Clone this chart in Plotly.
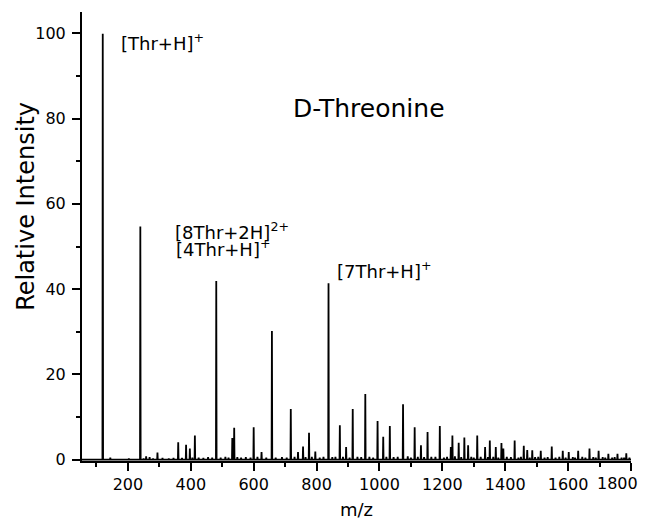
import plotly.graph_objects as go

# Peak positions (m/z) and relative intensities
peak_mz = [120, 144, 203, 239.5, 258, 269, 294, 360, 385, 397, 413, 481, 532, 538, 600, 625,
           658, 718, 741, 757, 776, 796, 838, 874, 894, 915, 955, 994, 1012, 1033, 1075,
           1112, 1132, 1153, 1192, 1227, 1232, 1252, 1270, 1282, 1311, 1336, 1351, 1370,
           1388, 1394, 1430, 1459, 1470, 1486, 1513, 1548, 1583, 1602, 1632, 1668, 1697,
           1728, 1757, 1785]
peak_int = [99.9, 0.5, 0.3, 54.7, 0.8, 0.6, 1.7, 4.1, 3.5, 2.6, 5.7, 41.9, 5.1, 7.5, 7.6, 1.8,
            30.2, 11.9, 1.8, 3.1, 6.3, 1.9, 41.4, 8.1, 3.0, 11.9, 15.4, 9.1, 5.4, 7.9, 13.0,
            7.6, 3.4, 6.5, 7.9, 3.0, 5.7, 4.0, 5.2, 3.4, 5.7, 3.0, 4.5, 3.0, 3.9, 2.6, 4.5,
            3.3, 2.3, 2.2, 2.1, 3.1, 2.1, 1.8, 2.1, 2.6, 2.1, 1.4, 1.4, 1.5]

# Small baseline "grass"
noise_mz = [250, 280, 310, 330, 345, 372, 405, 425, 440, 455, 468, 495, 510, 520, 548, 560,
            575, 590, 612, 640, 670, 690, 705, 730, 765, 785, 810, 822, 850, 860, 884, 905,
            930, 942, 968, 980, 1022, 1045, 1058, 1090, 1100, 1122, 1142, 1165, 1178, 1205,
            1215, 1240, 1260, 1292, 1300, 1322, 1345, 1362, 1378, 1405, 1418, 1442, 1450,
            1478, 1495, 1505, 1525, 1535, 1560, 1572, 1592, 1615, 1622, 1645, 1655, 1680,
            1688, 1710, 1718, 1740, 1748, 1770, 1778, 1795]
noise_int = [0.3, 0.3, 0.4, 0.3, 0.4, 0.4, 0.5, 0.5, 0.4, 0.6, 0.5, 0.5, 0.7, 0.5, 0.6, 0.5,
             0.6, 0.5, 0.7, 0.5, 0.5, 0.6, 0.5, 0.7, 0.6, 0.7, 0.5, 0.7, 0.6, 0.7, 0.7, 0.5,
             0.7, 0.6, 0.7, 0.5, 0.7, 0.6, 0.7, 0.8, 0.5, 0.7, 0.6, 0.7, 0.7, 0.5, 0.7, 0.8,
             0.6, 0.7, 0.5, 0.7, 0.6, 0.7, 0.5, 0.7, 0.6, 0.5, 0.7, 0.5, 0.6, 0.7, 0.5, 0.6,
             0.5, 0.7, 0.5, 0.6, 0.5, 0.7, 0.5, 0.6, 0.5, 0.6, 0.5, 0.5, 0.6, 0.5, 0.5, 0.5]

x_range = [54, 1800]
y_range = [-0.3, 105]
x_last_label = "1800"

# build stick spectrum
pts = sorted(zip(peak_mz + noise_mz, peak_int + noise_int))
xs, ys = [x_range[0]], [0]
for m, h in pts:
    xs += [m - 1.0, m, m + 1.0]
    ys += [0, h, 0]
xs.append(x_range[1])
ys.append(0)

FONT = "DejaVu Sans"

fig = go.Figure()
fig.add_trace(go.Scatter(x=xs, y=ys, mode="lines",
                         line=dict(color="black", width=1.8), hoverinfo="skip",
                         showlegend=False))

fig.update_layout(
    width=641, height=521, autosize=False,
    margin=dict(l=82, r=10, t=12, b=60),
    paper_bgcolor="white", plot_bgcolor="white",
    font=dict(family=FONT, color="black", size=16),
    xaxis=dict(range=x_range, showgrid=False, zeroline=False, showline=True,
               linecolor="black", linewidth=2, ticks="outside", ticklen=8,
               tickwidth=1.5, tickcolor="black", dtick=200, tick0=0,
               ticklabelstandoff=0,
               tickfont=dict(family=FONT, size=16),
               minor=dict(dtick=100, ticks="outside", ticklen=4, tickwidth=1.5,
                          tickcolor="black", showgrid=False)),
    yaxis=dict(range=y_range, showgrid=False, zeroline=False, showline=True,
               linecolor="black", linewidth=2, ticks="outside", ticklen=8,
               tickwidth=1.5, tickcolor="black", dtick=20, tick0=0,
               ticklabelstandoff=3,
               tickfont=dict(family=FONT, size=16),
               minor=dict(dtick=10, ticks="outside", ticklen=4, tickwidth=1.5,
                          tickcolor="black", showgrid=False)),
)

ann = dict(showarrow=False, font=dict(family=FONT, size=18, color="black"),
           xref="x", yref="y", xanchor="left", yanchor="middle")
fig.add_annotation(text="[Thr+H]<sup>+</sup>", x=173, y=97.9, **ann)
fig.add_annotation(text="[8Thr+2H]<sup>2+</sup>", x=342, y=53.6, **ann)
fig.add_annotation(text="[4Thr+H]<sup>+</sup>", x=348, y=49.6, **ann)
fig.add_annotation(text="[7Thr+H]<sup>+</sup>", x=860, y=44.6, **ann)
fig.add_annotation(text="D-Threonine", x=966, y=82.3, showarrow=False,
                   xref="x", yref="y", xanchor="center", yanchor="middle",
                   font=dict(family=FONT, size=25, color="black"))
fig.add_annotation(text="Relative Intensity", x=-0.102, y=0.566, xref="paper", yref="paper",
                   textangle=-90, showarrow=False, xanchor="center", yanchor="middle",
                   font=dict(family=FONT, size=24, color="black"))
fig.add_annotation(text="m/z", x=0.5, y=-0.109, xref="paper", yref="paper",
                   showarrow=False, xanchor="center", yanchor="middle",
                   font=dict(family=FONT, size=18, color="black"))
# last x tick label (kept inside the page so it is not hidden at the edge)
fig.add_annotation(text=x_last_label, x=x_range[1], y=-0.0512, xref="x", yref="paper",
                   showarrow=False, xanchor="right", yanchor="middle", xshift=9,
                   font=dict(family=FONT, size=16, color="black"))

fig.write_html("out.html", config={"responsive": False})
